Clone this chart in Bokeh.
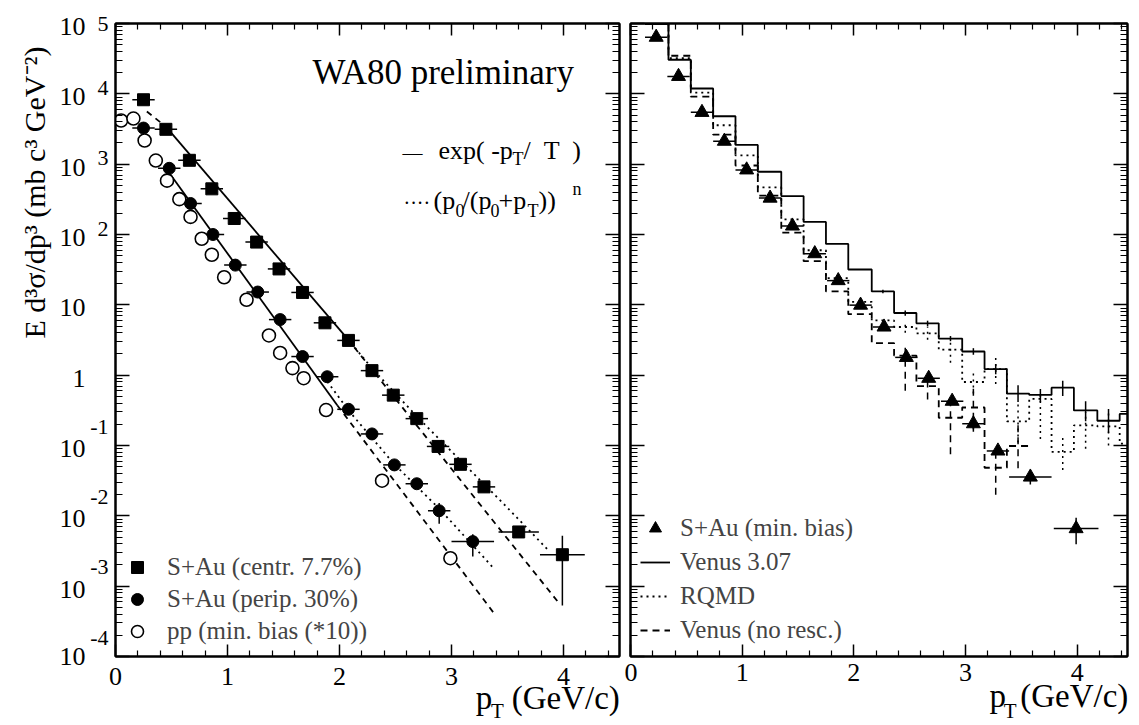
import math
from bokeh.plotting import figure
from bokeh.models import (ColumnDataSource, LinearAxis, LogAxis, FixedTicker,
                          Range1d, Label, Legend, LegendItem, Title,
                          CustomJSTickFormatter)
from bokeh.layouts import row
from bokeh.embed import file_html
from bokeh.resources import INLINE

FONT = "Liberation Serif"

# ---------------- axis ticks ----------------
x_major_ticks = [0, 1, 2, 3, 4]
x_minor_ticks = [0.2, 0.4, 0.6, 0.8, 1.2, 1.4, 1.6, 1.8, 2.2, 2.4, 2.6, 2.8,
                 3.2, 3.4, 3.6, 3.8, 4.2, 4.4]
y_tick_values = [1e5, 1e4, 1e3, 1e2, 1e1, 1.0, 1e-1, 1e-2, 1e-3, 1e-4]
y_tick_base = ["10", "10", "10", "10", "10", "1", "10", "10", "10", "10"]
y_tick_exp = ["5", "4", "3", "2", "", "", "-1", "-2", "-3", "-4"]
y_minor_ticks = [m * 10.0 ** k for k in range(-4, 5) for m in range(2, 10)]

# ---------------- left panel: data ----------------
# S+Au central 7.7%
sq_pt = [0.25, 0.45, 0.66, 0.86, 1.06, 1.26, 1.46, 1.67, 1.87, 2.08, 2.29, 2.48,
         2.69, 2.88, 3.08, 3.29, 3.60, 3.99]
sq_val = [8240, 3130, 1135, 446, 169, 78, 32.4, 15.0, 5.55, 3.12, 1.16, 0.52,
          0.241, 0.097, 0.054, 0.0258, 0.0059, 0.0028]
sq_dx = [0.1, 0.1, 0.1, 0.1, 0.1, 0.1, 0.1, 0.1, 0.1, 0.1, 0.1, 0.1,
         0.1, 0.1, 0.1, 0.1, 0.18, 0.2]
sq_vbar_pt = [3.99]
sq_vbar_lo = [0.00053]
sq_vbar_hi = [0.0052]

# S+Au peripheral 30%
pe_pt = [0.25, 0.48, 0.67, 0.87, 1.07, 1.27, 1.47, 1.67, 1.89, 2.08, 2.29, 2.49,
         2.69, 2.89, 3.19]
pe_val = [3260, 873, 276, 100, 36.7, 15.2, 6.17, 1.84, 0.95, 0.327, 0.146, 0.053,
          0.0286, 0.0118, 0.0043]
pe_dx = [0.1, 0.1, 0.1, 0.1, 0.1, 0.1, 0.1, 0.1, 0.1, 0.1, 0.1, 0.1, 0.1, 0.1, 0.19]
pe_vbar_pt = [2.89, 3.19]
pe_vbar_lo = [0.0077, 0.00265]
pe_vbar_hi = [0.0152, 0.00545]

# pp min. bias (*10)
pp_pt = [0.05, 0.16, 0.26, 0.36, 0.46, 0.57, 0.67, 0.77, 0.86, 0.97, 1.17, 1.37,
         1.47, 1.58, 1.68, 1.88, 2.38, 2.99]
pp_val = [4180, 4450, 2170, 1125, 583, 318, 178, 87, 51.5, 24.7, 11.8, 3.67,
          2.07, 1.26, 0.906, 0.319, 0.0316, 0.0025]

# fit curves
sq_exp_pt = [0.45, 2.07]
sq_exp_val = [3420, 3.3]
sq_exp_low_pt = [0.28, 0.45]
sq_exp_low_val = [5600, 3420]
sq_exp_ext_pt = [2.07, 3.95]
sq_exp_ext_val = [3.3, 6.0e-4]
sq_pow_pt = [2.07, 2.3, 2.7, 3.1, 3.5, 3.86]
sq_pow_val = [3.3, 1.2, 0.25, 0.057, 0.013, 0.0033]

pe_exp_pt = [0.45, 1.98]
pe_exp_val = [875, 0.374]
pe_exp_ext_pt = [1.98, 3.38]
pe_exp_ext_val = [0.374, 4.1e-4]
pe_pow_pt = [1.86, 2.08, 2.49, 2.90, 3.38]
pe_pow_val = [0.95, 0.316, 0.054, 0.0122, 0.00177]

# ---------------- right panel: data ----------------
tri_pt = [0.23, 0.43, 0.64, 0.84, 1.04, 1.25, 1.45, 1.65, 1.86, 2.06, 2.27, 2.47,
          2.67, 2.88, 3.07, 3.29, 3.58, 3.99]
tri_val = [63800, 17700, 5450, 2120, 829, 329, 132, 53.4, 22.1, 9.9, 4.84, 1.79,
           0.903, 0.426, 0.204, 0.0836, 0.0356, 0.00658]
tri_dx = [0.1, 0.1, 0.1, 0.1, 0.1, 0.1, 0.1, 0.1, 0.1, 0.1, 0.1, 0.1,
          0.1, 0.1, 0.1, 0.1, 0.19, 0.2]
tri_vbar_pt = [3.07, 3.58, 3.99]
tri_vbar_lo = [0.17, 0.028, 0.00395]
tri_vbar_hi = [0.245, 0.045, 0.0094]

hist_edges = [0.13, 0.34, 0.54, 0.74, 0.94, 1.14, 1.35, 1.55, 1.75, 1.95, 2.16, 2.36,
              2.56, 2.76, 2.97, 3.17, 3.37, 3.57, 3.77, 3.97, 4.18, 4.38, 4.45]
venus_val = [9.8e4, 30500, 11900, 4800, 1880, 780, 352, 151, 73.4, 31.8, 15.5, 7.65,
             5.46, 3.31, 2.17, 1.22, 0.546, 0.523, 0.665, 0.315, 0.225, 0.281]
rqmd_val = [1.02e5, 32200, 10400, 3575, 1330, 467, 164, 59.7, 23.9, 11.05, 6.0, 4.84,
            3.94, 2.31, 0.80, 1.22, 0.221, 0.459, 0.0813, 0.193, 0.187, 0.106]
nores_val = [1.05e5, 34800, 9100, 2630, 957, 356, 106, 41.7, 15.5, 7.37, 2.86, 1.9,
             0.7, 0.248, 0.347, 0.0483, 0.0984]

venus_err_bin = [10, 11, 12, 13, 14, 15, 16, 17, 18, 19, 20]
venus_err_lo = [14.6, 7.0, 5.0, 3.04, 1.95, 1.03, 0.415, 0.411, 0.507, 0.222, 0.15]
venus_err_hi = [16.4, 8.3, 5.95, 3.6, 2.42, 1.44, 0.716, 0.637, 0.83, 0.427, 0.329]
rqmd_err_bin = [11, 12, 13, 14, 15, 16, 17, 18, 19, 20]
rqmd_err_lo = [4.0, 3.2, 1.5, 0.55, 0.75, 0.11, 0.124, 0.045, 0.09, 0.10]
rqmd_err_hi = [5.8, 4.9, 3.1, 1.2, 1.75, 0.40, 0.57, 0.14, 0.30, 0.32]
nores_err_bin = [11, 12, 13, 14, 15, 16]
nores_err_lo = [0.6, 0.45, 0.075, 0.157, 0.02, 0.0475]
nores_err_hi = [2.6, 1.0, 0.40, 0.73, 0.09, 0.214]

# ---------------- layout constants ----------------
BORDER_TOP = 23
BORDER_BOTTOM = 69
FRAME_H = 725 - BORDER_TOP - BORDER_BOTTOM
PX_PER_DECADE = FRAME_H / 9.0
Y_LO, Y_HI = 1e-4, 1e5
EMPTY = CustomJSTickFormatter(code="return ''")


# ---------------- helpers ----------------
def style_axis(ax, labels, maj, mnr, standoff=10):
    ax.axis_line_width = 2
    ax.axis_line_color = "black"
    ax.major_tick_in = maj
    ax.major_tick_out = 0
    ax.minor_tick_in = mnr
    ax.minor_tick_out = 0
    ax.major_tick_line_width = 1.5
    ax.minor_tick_line_width = 1.2
    ax.major_tick_line_color = "black"
    ax.minor_tick_line_color = "black"
    if labels:
        ax.major_label_text_font = FONT
        ax.major_label_text_font_size = "26px"
        ax.major_label_text_color = "black"
        ax.major_label_standoff = standoff
    else:
        ax.formatter = EMPTY
        ax.major_label_standoff = 0


def text_axis(kind, ticks, texts, size, standoff):
    """An axis with no line and no ticks that only carries text labels."""
    ax = kind(ticker=FixedTicker(ticks=ticks, minor_ticks=[]))
    ax.axis_line_color = None
    ax.major_tick_line_color = None
    ax.minor_tick_line_color = None
    ax.major_tick_in = 0
    ax.major_tick_out = 0
    ax.minor_tick_in = 0
    ax.minor_tick_out = 0
    ax.major_label_overrides = {t: s for t, s in zip(ticks, texts)}
    ax.major_label_text_font = FONT
    ax.major_label_text_font_size = f"{size}px"
    ax.major_label_text_color = "black"
    ax.major_label_standoff = standoff
    return ax


def make_fig(width, xmax, bl, br, standoff):
    p = figure(width=width, height=725, x_range=Range1d(0, xmax),
               y_range=Range1d(Y_LO, Y_HI), y_axis_type="log",
               output_backend="svg", toolbar_location=None,
               min_border_left=bl, min_border_right=br,
               min_border_top=BORDER_TOP, min_border_bottom=BORDER_BOTTOM)
    p.xgrid.visible = False
    p.ygrid.visible = False
    p.outline_line_color = "black"
    p.outline_line_width = 2
    p.background_fill_color = "white"
    p.border_fill_color = "white"
    xt = FixedTicker(ticks=x_major_ticks, minor_ticks=x_minor_ticks)
    yt = FixedTicker(ticks=y_tick_values, minor_ticks=y_minor_ticks)
    p.xaxis.ticker = xt
    p.yaxis.ticker = yt
    style_axis(p.xaxis[0], True, 12, 6, standoff)
    style_axis(p.yaxis[0], False, 14, 7)
    top = LinearAxis(ticker=xt)
    style_axis(top, False, 12, 6)
    p.add_layout(top, "above")
    right = LogAxis(ticker=yt)
    style_axis(right, False, 14, 7)
    p.add_layout(right, "right")
    return p


def lab(p, x, y, text, size, align="left", baseline="middle"):
    p.add_layout(Label(x=x, y=y, x_units="screen", y_units="screen", text=text,
                       text_font=FONT, text_font_size=f"{size}px", text_color="black",
                       text_align=align, text_baseline=baseline))


def points(p, pt, val, dx, marker, size, fill="black", lw=1.0, hbar=True):
    if hbar:
        src_e = ColumnDataSource(dict(x0=[a - d for a, d in zip(pt, dx)],
                                      x1=[a + d for a, d in zip(pt, dx)], y=val))
        p.segment(x0="x0", y0="y", x1="x1", y1="y", source=src_e,
                  line_color="black", line_width=1.5)
    src = ColumnDataSource(dict(x=pt, y=val))
    return p.scatter("x", "y", source=src, marker=marker, size=size,
                     fill_color=fill, line_color="black", line_width=lw)


def vbars(p, pt, lo, hi, dash="solid", lw=1.5):
    src = ColumnDataSource(dict(x=pt, lo=lo, hi=hi))
    p.segment(x0="x", y0="lo", x1="x", y1="hi", source=src, line_color="black",
              line_width=lw, line_dash=dash)


def style_legend(lg, size, spacing, standoff):
    lg.label_text_font = FONT
    lg.label_text_font_size = f"{size}px"
    lg.glyph_width = 30
    lg.glyph_height = 30
    lg.label_height = 30
    lg.spacing = spacing
    lg.padding = 0
    lg.margin = 0
    lg.label_standoff = standoff
    lg.border_line_color = None
    lg.background_fill_alpha = 0


def x_title(p, p_pos, t_pos, unit_pos, s_main, s_sub):
    p.add_layout(text_axis(LinearAxis, [p_pos, unit_pos], ["p", "(GeV/c)"], 33, s_main),
                 "below")
    p.add_layout(text_axis(LinearAxis, [t_pos], ["T"], 21, s_sub), "below")


def shifted(v, px):
    """value that sits px pixels higher on the log axis, kept inside the range"""
    s = v * 10 ** (px / PX_PER_DECADE)
    return min(max(s, Y_LO), Y_HI)


# ---------------- left panel ----------------
p1 = make_fig(624, 4.5, 115, 5, 11)

LW = 1.8
p1.line(sq_exp_pt, sq_exp_val, line_color="black", line_width=LW)
p1.line(sq_exp_low_pt, sq_exp_low_val, line_color="black", line_width=LW, line_dash="6 5")
p1.line(sq_exp_ext_pt, sq_exp_ext_val, line_color="black", line_width=LW, line_dash="6 5")
p1.line(sq_pow_pt, sq_pow_val, line_color="black", line_width=LW, line_dash="2 4")
p1.line(pe_exp_pt, pe_exp_val, line_color="black", line_width=LW)
p1.line(pe_exp_ext_pt, pe_exp_ext_val, line_color="black", line_width=LW, line_dash="6 5")
p1.line(pe_pow_pt, pe_pow_val, line_color="black", line_width=LW, line_dash="2 4")

vbars(p1, sq_vbar_pt, sq_vbar_lo, sq_vbar_hi)
vbars(p1, pe_vbar_pt, pe_vbar_lo, pe_vbar_hi)
r_sq = points(p1, sq_pt, sq_val, sq_dx, "square", 12)
r_pe = points(p1, pe_pt, pe_val, pe_dx, "circle", 12)
r_pp = points(p1, pp_pt, pp_val, None, "circle", 13, fill="white", lw=1.6, hbar=False)

leg1 = Legend(items=[LegendItem(label="S+Au (centr. 7.7%)", renderers=[r_sq]),
                     LegendItem(label="S+Au (perip. 30%)", renderers=[r_pe]),
                     LegendItem(label="pp (min. bias (*10))", renderers=[r_pp])],
              location=(7, 10), orientation="vertical")
style_legend(leg1, 25, 2, 15)
p1.add_layout(leg1)

# y tick labels: "10" plus a raised exponent, carried by label-only axes
exp_vals = [v for v, e in zip(y_tick_values, y_tick_exp) if e]
exp_text = [e for e in y_tick_exp if e]
exp_ticks = [shifted(v, 19 if e.startswith("-") else 6) for v, e in zip(exp_vals, exp_text)]
base_ticks = [shifted(v, -3) for v in y_tick_values]
p1.add_layout(text_axis(LogAxis, exp_ticks, exp_text, 22, 7), "left")
p1.add_layout(text_axis(LogAxis, base_ticks, y_tick_base, 26, 2), "left")
p1.add_layout(Title(text="E d\u00b3\u03c3/dp\u00b3 (mb c\u00b3 GeV\u207b\u00b2)",
                    align="right", offset=23, standoff=11, vertical_align="bottom",
                    text_font=FONT, text_font_size="30px", text_font_style="normal",
                    text_color="black"), "left")

x_title(p1, 3.29, 3.41, 4.02, -8, -20)

lab(p1, 197, 584, "WA80 preliminary", 35)
# exp legend
lab(p1, 287, 504, "\u2014", 20)
lab(p1, 323, 506, "exp( -p", 26)
lab(p1, 397, 498, "T", 18)
lab(p1, 408, 506, "/ \u00a0T \u00a0)", 26)
# power-law legend
lab(p1, 288, 454, "\u00b7\u00b7\u00b7\u00b7", 20)
lab(p1, 318, 456, "(p", 26)
lab(p1, 340, 446, "0", 18)
lab(p1, 347, 456, "/(p", 26)
lab(p1, 375, 446, "0", 18)
lab(p1, 383, 456, "+p", 26)
lab(p1, 412, 446, "T", 18)
lab(p1, 423, 456, "))", 26)
lab(p1, 457, 468, "n", 18)

# ---------------- right panel ----------------
p2 = make_fig(515, 4.45, 6, 12, 7)


def hist_xy(edges, vals):
    xs = list(edges[:len(vals) + 1])
    ys = list(vals) + [vals[-1]]
    return xs, ys


def centers(edges, idx):
    return [(edges[i] + edges[i + 1]) / 2 for i in idx]


hx, hy = hist_xy(hist_edges, venus_val)
r_venus = p2.step(hx, hy, mode="after", line_color="black", line_width=LW)
hx, hy = hist_xy(hist_edges, rqmd_val)
r_rqmd = p2.step(hx, hy, mode="after", line_color="black", line_width=LW, line_dash="2 4")
hx, hy = hist_xy(hist_edges, nores_val)
r_nores = p2.step(hx, hy, mode="after", line_color="black", line_width=LW, line_dash="7 5")

vbars(p2, centers(hist_edges, venus_err_bin), venus_err_lo, venus_err_hi)
vbars(p2, centers(hist_edges, rqmd_err_bin), rqmd_err_lo, rqmd_err_hi, dash="2 4")
vbars(p2, centers(hist_edges, nores_err_bin), nores_err_lo, nores_err_hi, dash="7 5")

vbars(p2, tri_vbar_pt, tri_vbar_lo, tri_vbar_hi)
r_tri = points(p2, tri_pt, tri_val, tri_dx, "triangle", 14)

leg2 = Legend(items=[LegendItem(label="S+Au (min. bias)", renderers=[r_tri]),
                     LegendItem(label="Venus 3.07", renderers=[r_venus]),
                     LegendItem(label="RQMD", renderers=[r_rqmd]),
                     LegendItem(label="Venus (no resc.)", renderers=[r_nores])],
              location=(10, 11), orientation="vertical")
style_legend(leg2, 25, 4, 10)
p2.add_layout(leg2)

x_title(p2, 3.289, 3.40, 3.973, -6, -18)

layout = row(p1, p2)
open("out.html", "w").write(file_html(layout, INLINE, title="WA80 pT spectra"))
